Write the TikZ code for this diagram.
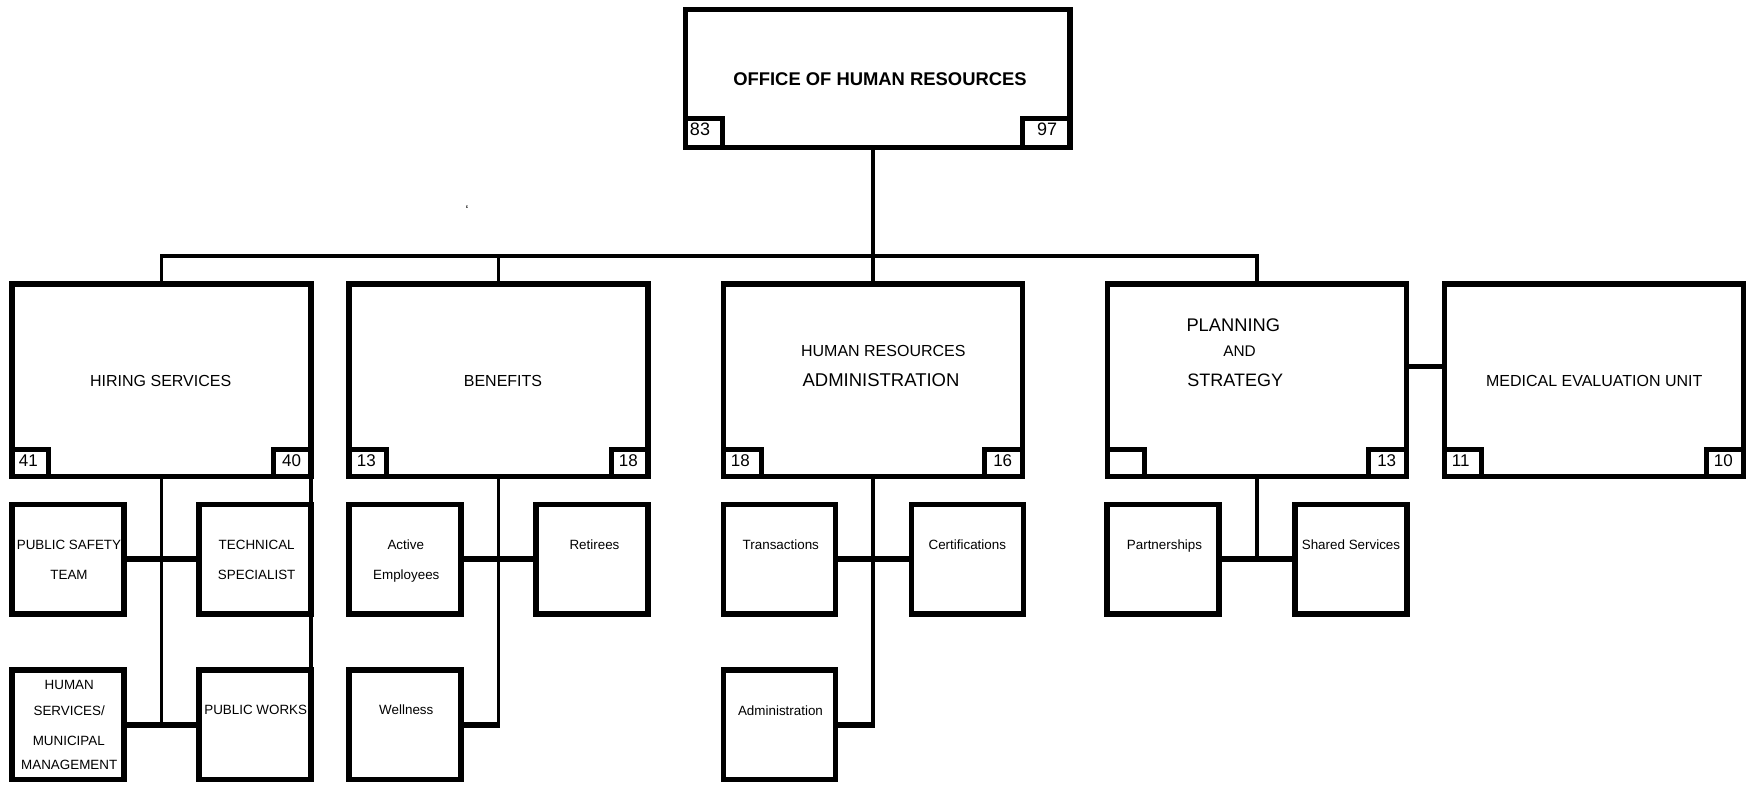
\documentclass[tikz,border=0pt]{standalone}
\usepackage{fontspec}
\setmainfont{Liberation Sans}
\begin{document}
\begin{tikzpicture}[x=1pt,y=-1pt]
\useasboundingbox (0,0) rectangle (1751,785);
\tikzset{
  box/.style={draw, line width=5.5pt, inner sep=0pt, outer sep=0pt, minimum width=299pt, minimum height=192.5pt},
  subbox/.style={draw, line width=5.5pt, inner sep=0pt, outer sep=0pt, minimum width=112pt, minimum height=109.5pt},
  cbox/.style={draw, line width=5pt, inner sep=0pt, outer sep=0pt, minimum width=37pt, minimum height=27pt},
  vconn/.style={line width=3.5pt},
  hconn/.style={line width=6pt},
  mconn/.style={line width=5.5pt},
  lbl/.style={inner sep=0pt, anchor=base, font=\fontsize{16}{19}\selectfont},
  sublbl/.style={inner sep=0pt, anchor=base, font=\fontsize{13.4}{16}\selectfont},
  num/.style={inner sep=0pt, anchor=base, font=\fontsize{17}{20}\selectfont}
}
% main boxes
\node[box, minimum width=384.5pt, minimum height=138pt] (top) at (877.75,78.25) {};
\node[box] (hiring) at (161.25,380.25) {};
\node[box] (benefits) at (498.5,380.25) {};
\node[box] (hradmin) at (873,380.25) {};
\node[box] (planning) at (1257,380.25) {};
\node[box] (medical) at (1594,380.25) {};
% corner boxes
\node[cbox, minimum height=29pt, anchor=south west] (topL) at (top.south west) {};
\node[cbox, minimum width=48pt, minimum height=29pt, anchor=south east] (topR) at (top.south east) {};
\node[cbox, anchor=south west] (hirL) at (hiring.south west) {};
\node[cbox, anchor=south east] (hirR) at (hiring.south east) {};
\node[cbox, anchor=south west] (benL) at (benefits.south west) {};
\node[cbox, anchor=south east] (benR) at (benefits.south east) {};
\node[cbox, minimum width=38pt, anchor=south west] (hraL) at (hradmin.south west) {};
\node[cbox, minimum width=38pt, anchor=south east] (hraR) at (hradmin.south east) {};
\node[cbox, anchor=south west] (plaL) at (planning.south west) {};
\node[cbox, minimum width=38pt, anchor=south east] (plaR) at (planning.south east) {};
\node[cbox, anchor=south west] (medL) at (medical.south west) {};
\node[cbox, anchor=south east] (medR) at (medical.south east) {};
% numbers
\node[num, font=\fontsize{18}{21}\selectfont] (n83) at (700,135) {83};
\node[num, font=\fontsize{18}{21}\selectfont] (n97) at (1047,135) {97};
\node[num] (n41) at (28.3,466) {41};
\node[num] (n40) at (291.7,466) {40};
\node[num] (n13a) at (366.3,466) {13};
\node[num] (n18a) at (628.3,466) {18};
\node[num] (n18b) at (740.3,466) {18};
\node[num] (n16) at (1002.7,466) {16};
\node[num] (n13b) at (1386.7,466) {13};
\node[num] (n11) at (1460.8,466) {11};
\node[num] (n10) at (1723.3,466) {10};
% main labels
\node[lbl, font=\fontsize{18.4}{21}\selectfont\bfseries] (tTop) at (880,85) {OFFICE OF HUMAN RESOURCES};
\node[lbl] (tHiring) at (160.7,386) {HIRING SERVICES};
\node[lbl] (tBen) at (503,386) {BENEFITS};
\node[lbl] (tHR1) at (883.3,356) {HUMAN RESOURCES};
\node[lbl, font=\fontsize{18.5}{22}\selectfont] (tHR2) at (881,386) {ADMINISTRATION};
\node[lbl, font=\fontsize{18.3}{22}\selectfont] (tPla1) at (1233.3,331) {PLANNING};
\node[lbl, font=\fontsize{15.4}{18}\selectfont] (tPla2) at (1239.5,356) {AND};
\node[lbl, font=\fontsize{18}{22}\selectfont] (tPla3) at (1235.3,386) {STRATEGY};
\node[lbl] (tMed) at (1594.2,386) {MEDICAL EVALUATION UNIT};
\node[inner sep=0pt, anchor=north, font=\fontsize{13}{15}\selectfont] (tick) at (467,205) {`};
% sub boxes
\node[subbox] (pst) at (68,559.25) {};
\node[subbox] (tech) at (255,559.25) {};
\node[subbox] (hsmm) at (68,724.5) {};
\node[subbox] (pw) at (255,724.5) {};
\node[subbox] (active) at (405,559.25) {};
\node[subbox] (retirees) at (592,559.25) {};
\node[subbox] (wellness) at (405,724.5) {};
\node[subbox] (trans) at (779.5,559.25) {};
\node[subbox] (cert) at (967.25,559.25) {};
\node[subbox] (admin) at (779.5,724.5) {};
\node[subbox] (partner) at (1163,559.25) {};
\node[subbox] (shared) at (1351,559.25) {};
% sub labels
\node[sublbl] (lPst1) at (69,549.3) {PUBLIC SAFETY};
\node[sublbl] (lPst2) at (69,579.3) {TEAM};
\node[sublbl] (lTech1) at (256.7,549.3) {TECHNICAL};
\node[sublbl] (lTech2) at (256.7,579.3) {SPECIALIST};
\node[sublbl] (lHs1) at (69.3,689.3) {HUMAN};
\node[sublbl] (lHs2) at (69.2,715) {SERVICES/};
\node[sublbl] (lHs3) at (68.8,745) {MUNICIPAL};
\node[sublbl] (lHs4) at (69.2,769.3) {MANAGEMENT};
\node[sublbl] (lPw) at (255.7,714.3) {PUBLIC WORKS};
\node[sublbl] (lAct1) at (405.8,549.3) {Active};
\node[sublbl] (lAct2) at (406.3,579.3) {Employees};
\node[sublbl] (lRet) at (594.5,549.3) {Retirees};
\node[sublbl] (lWel) at (406.3,714.3) {Wellness};
\node[sublbl] (lTra) at (780.8,549.3) {Transactions};
\node[sublbl] (lCer) at (967.3,549.3) {Certifications};
\node[sublbl] (lAdm) at (780.5,715) {Administration};
\node[sublbl] (lPar) at (1164.5,549.3) {Partnerships};
\node[sublbl] (lSha) at (1351,549.3) {Shared Services};
% top connectors
\coordinate (bus) at (873,256);
\draw[vconn] (top.south -| hradmin.north) -- (hradmin.north);
\draw[vconn] (hiring.north) -- (hiring.north |- bus) -- (planning.north |- bus) -- (planning.north);
\draw[vconn] (benefits.north) -- (benefits.north |- bus);
\draw[mconn] ([yshift=13.75pt]planning.east) -- ([yshift=13.75pt]medical.west);
% hiring connectors
\draw[vconn] (hiring.south) -- (hiring.south |- hsmm.east);
\draw[hconn] (pst.east) -- (tech.west);
\draw[hconn] (hsmm.east) -- (pw.west);
\draw[vconn] (pw.north east |- hiring.south) -- (pw.north east);
% benefits connectors
\draw[vconn] (benefits.south) -- (benefits.south |- wellness.east);
\draw[hconn] (active.east) -- (retirees.west);
\draw[hconn, shorten >=-1.75pt] (wellness.east) -- (benefits.south |- wellness.east);
% hr admin connectors
\draw[vconn] (hradmin.south) -- (hradmin.south |- admin.east);
\draw[hconn] (trans.east) -- (cert.west);
\draw[hconn, shorten >=-1.75pt] (admin.east) -- (hradmin.south |- admin.east);
% planning connectors
\draw[vconn] (planning.south) -- (planning.south |- partner.east);
\draw[hconn] (partner.east) -- (shared.west);
\end{tikzpicture}
\end{document}
